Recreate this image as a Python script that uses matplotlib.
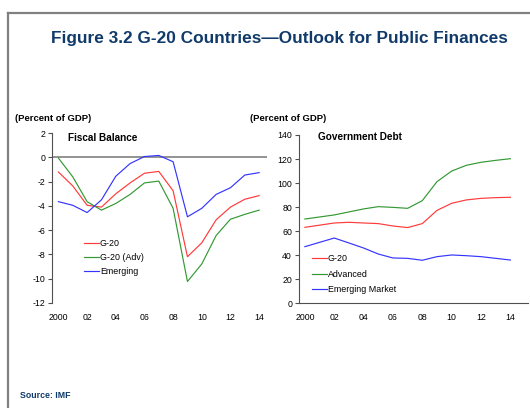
import matplotlib
matplotlib.use("Agg")
import matplotlib.pyplot as plt
from matplotlib.lines import Line2D

plt.rcParams['font.family'] = ['Liberation Sans', 'DejaVu Sans']

years = list(range(2000, 2015))
tick_years = [2000, 2002, 2004, 2006, 2008, 2010, 2012, 2014]
tick_labels = ["2000", "02", "04", "06", "08", "10", "12", "14"]

# Fiscal balance, percent of GDP
fb_g20 = [-1.2, -2.35, -3.95, -4.1, -3.0, -2.1, -1.3, -1.15, -2.75, -8.2, -7.05, -5.15, -4.1, -3.45, -3.15]
fb_adv = [-0.05, -1.6, -3.65, -4.35, -3.8, -3.05, -2.1, -1.95, -4.2, -10.25, -8.8, -6.45, -5.1, -4.7, -4.35]
fb_em = [-3.65, -3.95, -4.55, -3.5, -1.55, -0.5, 0.08, 0.17, -0.35, -4.9, -4.2, -3.05, -2.5, -1.45, -1.25]

# Government debt, percent of GDP
gd_g20 = [63.2, 65.0, 66.8, 67.4, 66.8, 66.3, 64.3, 63.0, 66.3, 77.3, 83.2, 86.0, 87.3, 87.9, 88.2]
gd_adv = [70.1, 71.8, 73.5, 76.0, 78.5, 80.4, 79.8, 79.0, 85.4, 101.2, 110.0, 114.8, 117.3, 118.9, 120.3]
gd_em = [47.1, 50.7, 54.3, 50.2, 46.0, 41.0, 37.7, 37.4, 35.8, 38.8, 40.2, 39.6, 38.8, 37.4, 36.0]

RED = '#ff3a3a'
GREEN = '#339933'
BLUE = '#3535ff'
NAVY = '#0f3a6a'
AXIS = '#505050'
LW = 0.85
TICK_FS = 6.3

W, H = 530, 408
fig = plt.figure(figsize=(W / 100, H / 100), dpi=100)


def fx(px):
    return px / W


def fy(py):
    return 1 - py / H


# page frame lines (top and left)
fig.add_artist(Line2D([fx(8), fx(530)], [fy(13), fy(13)], color='#808080', lw=1.6, transform=fig.transFigure))
fig.add_artist(Line2D([fx(8), fx(8)], [fy(13), fy(408)], color='#808080', lw=1.6, transform=fig.transFigure))

fig.text(fx(279), fy(39), "Figure 3.2 G-20 Countries\u2014Outlook for Public Finances",
         ha='center', va='center', fontsize=12.4, fontweight='bold', color=NAVY)
fig.text(fx(20), fy(395), "Source: IMF", ha='left', va='center', fontsize=6.3,
         fontweight='bold', color=NAVY)

fig.text(fx(15), fy(118), "(Percent of GDP)", ha='left', va='center', fontsize=6.8, fontweight='bold')
fig.text(fx(250), fy(118), "(Percent of GDP)", ha='left', va='center', fontsize=6.8, fontweight='bold')

# ---- Fiscal balance panel ----
ax1 = fig.add_axes([fx(52), fy(302.7), fx(267 - 52), (302.7 - 133.3) / H])
ax1.plot(years, fb_g20, color=RED, lw=LW, label='G-20')
ax1.plot(years, fb_adv, color=GREEN, lw=LW, label='G-20 (Adv)')
ax1.plot(years, fb_em, color=BLUE, lw=LW, label='Emerging')
ax1.axhline(0, color='#8a8a8a', lw=1.3, zorder=0)
ax1.set_xlim(1999.55, 2014.55)
ax1.set_ylim(-12, 2)
ax1.set_yticks(range(-12, 3, 2))
ax1.set_yticklabels([str(v) for v in range(-12, 3, 2)])
ax1.set_xticks(tick_years)
ax1.set_xticklabels(tick_labels)
for s in ['top', 'right', 'bottom']:
    ax1.spines[s].set_visible(False)
ax1.spines['left'].set_color(AXIS)
ax1.spines['left'].set_linewidth(0.8)
ax1.tick_params(axis='y', direction='out', length=3, width=0.8, color=AXIS, labelsize=TICK_FS, pad=2)
ax1.tick_params(axis='x', length=0, labelsize=TICK_FS, pad=7.5)
ax1.text(fx(68), fy(138), "Fiscal Balance", transform=fig.transFigure, ha='left', va='center',
         fontsize=7.2, fontweight='bold')
ax1.legend(loc='upper left', bbox_to_anchor=(fx(84), fy(239)), bbox_transform=fig.transFigure,
           frameon=False, fontsize=6.4, handlelength=1.7, handletextpad=0.1, labelspacing=0.55,
           borderpad=0, borderaxespad=0)

# ---- Government debt panel ----
ax2 = fig.add_axes([fx(299), fy(303.3), fx(528 - 299), (303.3 - 135) / H])
ax2.plot(years, gd_g20, color=RED, lw=LW, label='G-20')
ax2.plot(years, gd_adv, color=GREEN, lw=LW, label='Advanced')
ax2.plot(years, gd_em, color=BLUE, lw=LW, label='Emerging Market')
ax2.set_xlim(1999.6, 2015.2)
ax2.set_ylim(0, 140)
ax2.set_yticks(range(0, 141, 20))
ax2.set_xticks(tick_years)
ax2.set_xticklabels(tick_labels)
for s in ['top', 'right']:
    ax2.spines[s].set_visible(False)
for s in ['left', 'bottom']:
    ax2.spines[s].set_color(AXIS)
    ax2.spines[s].set_linewidth(0.8)
ax2.tick_params(axis='y', direction='out', length=3, width=0.8, color=AXIS, labelsize=TICK_FS, pad=2)
ax2.tick_params(axis='x', length=0, labelsize=TICK_FS, pad=7)
ax2.text(fx(318), fy(137), "Government Debt", transform=fig.transFigure, ha='left', va='center',
         fontsize=7.2, fontweight='bold')
ax2.legend(loc='upper left', bbox_to_anchor=(fx(312), fy(254)), bbox_transform=fig.transFigure,
           frameon=False, fontsize=6.4, handlelength=1.7, handletextpad=0.1, labelspacing=0.75,
           borderpad=0, borderaxespad=0)

fig.savefig("out.png", dpi=100)
